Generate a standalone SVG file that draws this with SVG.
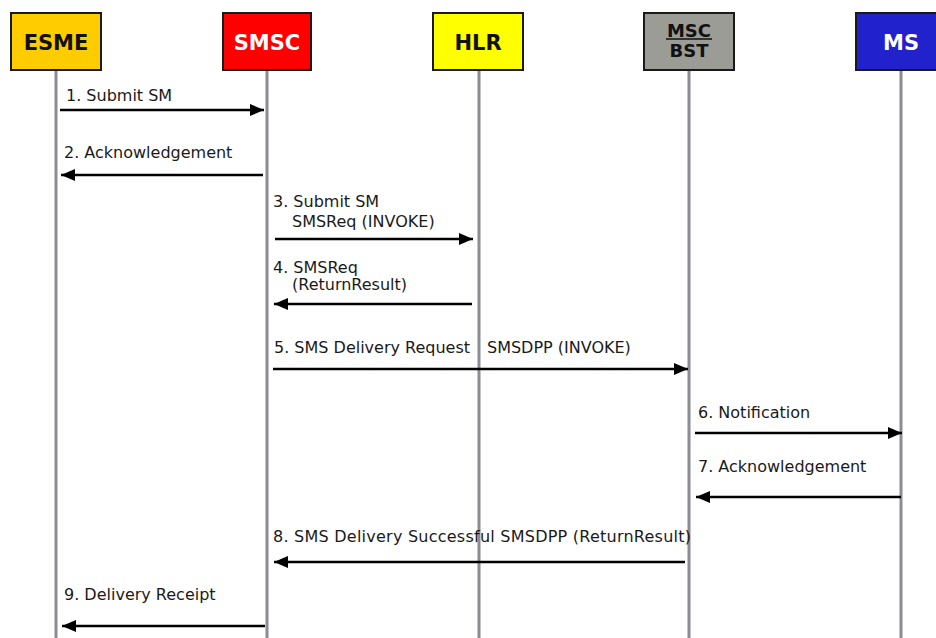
<svg xmlns="http://www.w3.org/2000/svg" width="936" height="638" viewBox="0 0 936 638">
<style>
.box{stroke:#1a1a1a;stroke-width:2}
.life{stroke:#8c8c94;stroke-width:3}
.msg{stroke:#000;stroke-width:2.5;fill:none;marker-end:url(#ah)}
.lbl{font-family:"DejaVu Sans",Verdana,sans-serif;font-size:16px;fill:#1a1a1a}
.hd{font-family:"DejaVu Sans",Verdana,sans-serif;font-weight:bold;font-size:21px;text-anchor:middle}
</style>
<defs>
<marker id="ah" viewBox="0 0 14 12" refX="14" refY="6" markerWidth="14" markerHeight="12" markerUnits="userSpaceOnUse" orient="auto">
<path d="M0,0 L14,6 L0,12 Z" fill="#000"/>
</marker>
</defs>
<rect width="936" height="638" fill="#fff"/>
<g id="lifelines">
<line class="life" x1="56" y1="70" x2="56" y2="638"/>
<line class="life" x1="267" y1="70" x2="267" y2="638"/>
<line class="life" x1="479" y1="70" x2="479" y2="638"/>
<line class="life" x1="689" y1="70" x2="689" y2="638"/>
<line class="life" x1="901" y1="70" x2="901" y2="638"/>
</g>
<g id="ESME">
<rect class="box" x="11" y="13" width="90" height="57" fill="#FFCC00"/>
<text class="hd" x="56" y="50" fill="#111">ESME</text>
</g>
<g id="SMSC">
<rect class="box" x="223" y="13" width="88" height="57" fill="#FF0000"/>
<text class="hd" x="267" y="50" fill="#fff">SMSC</text>
</g>
<g id="HLR">
<rect class="box" x="433" y="13" width="90" height="57" fill="#FFFF00"/>
<text class="hd" x="478" y="50" fill="#111">HLR</text>
</g>
<g id="MSCBST">
<rect class="box" x="644" y="13" width="90" height="57" fill="#9C9C96"/>
<text class="hd" x="689" y="37" fill="#111" style="font-size:18px">MSC</text>
<line x1="666" y1="39" x2="712" y2="39" stroke="#111" stroke-width="1.5"/>
<text class="hd" x="689" y="57" fill="#111" style="font-size:18px">BST</text>
</g>
<g id="MS">
<rect class="box" x="856" y="13" width="92" height="57" fill="#2222CC"/>
<text class="hd" x="901" y="50" fill="#fff">MS</text>
</g>
<g id="connectors">
<line class="msg" x1="60" y1="110" x2="264" y2="110"/>
<line class="msg" x1="263" y1="175" x2="61" y2="175"/>
<line class="msg" x1="275" y1="239" x2="473" y2="239"/>
<line class="msg" x1="472" y1="304" x2="274" y2="304"/>
<line class="msg" x1="273" y1="369" x2="688" y2="369"/>
<line class="msg" x1="695" y1="433" x2="902" y2="433"/>
<line class="msg" x1="901" y1="497" x2="696" y2="497"/>
<line class="msg" x1="685" y1="562" x2="274" y2="562"/>
<line class="msg" x1="265" y1="626" x2="62" y2="626"/>
</g>
<g id="labels">
<text class="lbl" x="66" y="101">1. Submit SM</text>
<text class="lbl" x="64" y="158">2. Acknowledgement</text>
<text class="lbl" x="273" y="207">3. Submit SM</text>
<text class="lbl" x="292" y="227">SMSReq (INVOKE)</text>
<text class="lbl" x="273" y="273">4. SMSReq</text>
<text class="lbl" x="292" y="290">(ReturnResult)</text>
<text class="lbl" x="274" y="353">5. SMS Delivery Request<tspan x="487">SMSDPP (INVOKE)</tspan></text>
<text class="lbl" x="698" y="418">6. Notification</text>
<text class="lbl" x="698" y="472">7. Acknowledgement</text>
<text class="lbl" x="273" y="542" textLength="418" lengthAdjust="spacing">8. SMS Delivery Successful SMSDPP (ReturnResult)</text>
<text class="lbl" x="64" y="600">9. Delivery Receipt</text>
</g>
</svg>
